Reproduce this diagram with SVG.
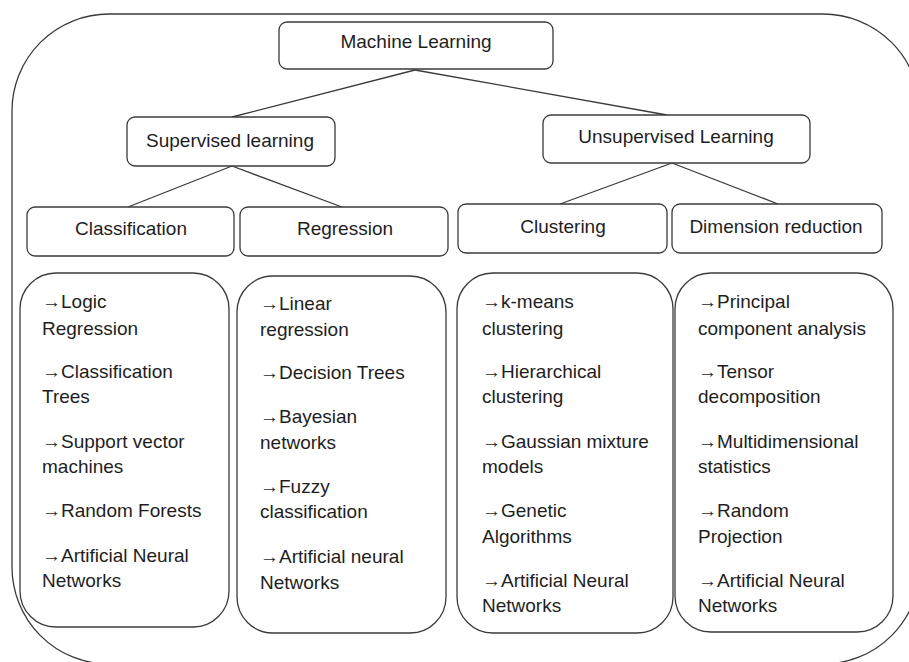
<svg xmlns="http://www.w3.org/2000/svg" width="909" height="662" viewBox="0 0 909 662">
  <style>
    .box { fill: #ffffff; stroke: #3a3a3a; stroke-width: 1.3; }
    .frame { fill: none; stroke: #3a3a3a; stroke-width: 1.3; }
    .edge { fill: none; stroke: #3a3a3a; stroke-width: 1.3; }
    .t { font-family: "Liberation Sans", Arial, sans-serif; font-size: 19px; fill: #1e1e1e; }
    .c { text-anchor: middle; }
  </style>
  <rect width="909" height="662" fill="#ffffff"/>

  <!-- outer frame -->
  <rect class="frame" x="12" y="14" width="908" height="650" rx="97" ry="97"/>

  <!-- connectors -->
  <g id="connectors">
    <line class="edge" x1="415" y1="70" x2="232" y2="117"/>
    <line class="edge" x1="415" y1="70" x2="667" y2="115"/>
    <line class="edge" x1="232" y1="166" x2="128" y2="207"/>
    <line class="edge" x1="232" y1="166" x2="342" y2="207"/>
    <line class="edge" x1="672" y1="163" x2="560" y2="204"/>
    <line class="edge" x1="672" y1="163" x2="778" y2="204"/>
  </g>

  <g id="machine-learning">
    <rect class="box" x="279" y="22" width="274" height="47" rx="8"/>
    <text class="t c" x="416" y="48">Machine Learning</text>
  </g>

  <g id="supervised">
    <rect class="box" x="127" y="117" width="208" height="49" rx="8"/>
    <text class="t c" x="230" y="147">Supervised learning</text>
  </g>

  <g id="unsupervised">
    <rect class="box" x="543" y="115" width="267" height="48" rx="8"/>
    <text class="t c" x="676" y="143">Unsupervised Learning</text>
  </g>

  <g id="classification">
    <rect class="box" x="27" y="207" width="207" height="49" rx="8"/>
    <text class="t c" x="131" y="235">Classification</text>
  </g>

  <g id="regression">
    <rect class="box" x="240" y="207" width="208" height="49" rx="8"/>
    <text class="t c" x="345" y="235">Regression</text>
  </g>

  <g id="clustering">
    <rect class="box" x="458" y="204" width="209" height="49" rx="8"/>
    <text class="t c" x="563" y="233">Clustering</text>
  </g>

  <g id="dimension-reduction">
    <rect class="box" x="672" y="204" width="210" height="49" rx="8"/>
    <text class="t c" x="776" y="233">Dimension reduction</text>
  </g>

  <g id="classification-methods">
    <rect class="box" x="20" y="273" width="209" height="354" rx="36"/>
    <text class="t" x="42" y="308">→Logic</text>
    <text class="t" x="42" y="335">Regression</text>
    <text class="t" x="42" y="378">→Classification</text>
    <text class="t" x="42" y="403">Trees</text>
    <text class="t" x="42" y="448">→Support vector</text>
    <text class="t" x="42" y="473">machines</text>
    <text class="t" x="42" y="517">→Random Forests</text>
    <text class="t" x="42" y="562">→Artificial Neural</text>
    <text class="t" x="42" y="587">Networks</text>
  </g>

  <g id="regression-methods">
    <rect class="box" x="237" y="276" width="209" height="357" rx="36"/>
    <text class="t" x="260" y="310">→Linear</text>
    <text class="t" x="260" y="336">regression</text>
    <text class="t" x="260" y="379">→Decision Trees</text>
    <text class="t" x="260" y="423">→Bayesian</text>
    <text class="t" x="260" y="449">networks</text>
    <text class="t" x="260" y="493">→Fuzzy</text>
    <text class="t" x="260" y="518">classification</text>
    <text class="t" x="260" y="563">→Artificial neural</text>
    <text class="t" x="260" y="589">Networks</text>
  </g>

  <g id="clustering-methods">
    <rect class="box" x="457" y="273" width="216" height="360" rx="36"/>
    <text class="t" x="482" y="308">→k-means</text>
    <text class="t" x="482" y="335">clustering</text>
    <text class="t" x="482" y="378">→Hierarchical</text>
    <text class="t" x="482" y="403">clustering</text>
    <text class="t" x="482" y="448">→Gaussian mixture</text>
    <text class="t" x="482" y="473">models</text>
    <text class="t" x="482" y="517">→Genetic</text>
    <text class="t" x="482" y="543">Algorithms</text>
    <text class="t" x="482" y="587">→Artificial Neural</text>
    <text class="t" x="482" y="612">Networks</text>
  </g>

  <g id="dimension-methods">
    <rect class="box" x="675" y="273" width="218" height="359" rx="36"/>
    <text class="t" x="698" y="308">→Principal</text>
    <text class="t" x="698" y="335">component analysis</text>
    <text class="t" x="698" y="378">→Tensor</text>
    <text class="t" x="698" y="403">decomposition</text>
    <text class="t" x="698" y="448">→Multidimensional</text>
    <text class="t" x="698" y="473">statistics</text>
    <text class="t" x="698" y="517">→Random</text>
    <text class="t" x="698" y="543">Projection</text>
    <text class="t" x="698" y="587">→Artificial Neural</text>
    <text class="t" x="698" y="612">Networks</text>
  </g>
</svg>
